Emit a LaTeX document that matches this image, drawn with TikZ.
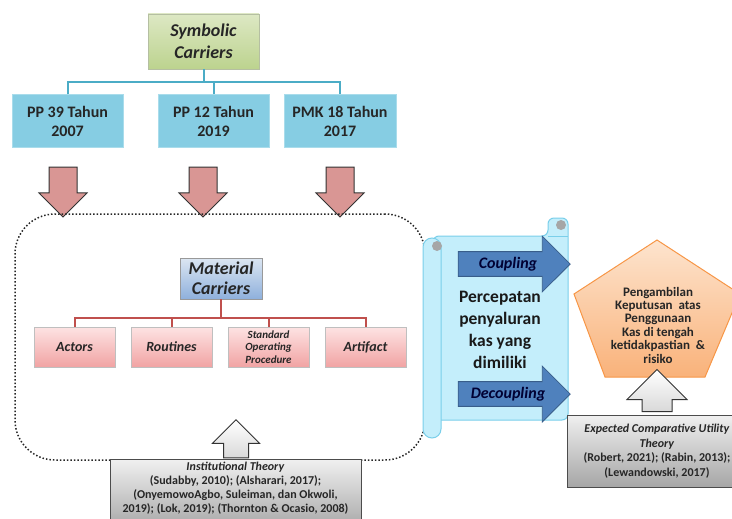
\documentclass[tikz,border=0pt]{standalone}
\usepackage{fontspec}
\setmainfont{Carlito}
\usetikzlibrary{shapes.arrows}

\definecolor{symtop}{HTML}{DDE8C4}
\definecolor{symbot}{HTML}{BCD38E}
\definecolor{lawfill}{HTML}{86CDE3}
\definecolor{lawedge}{HTML}{A9DCEB}
\definecolor{busblue}{HTML}{4BACC6}
\definecolor{pushfill}{HTML}{D99694}
\definecolor{mattop}{HTML}{DCE6F2}
\definecolor{matbot}{HTML}{8EB0DC}
\definecolor{busred}{HTML}{C0504D}
\definecolor{pinktop}{HTML}{FDE3E3}
\definecolor{pinkbot}{HTML}{F1A3A3}
\definecolor{scrollfill}{HTML}{C4EEFB}
\definecolor{scrolledge}{HTML}{7ACFEA}
\definecolor{shiftfill}{HTML}{4F81BD}
\definecolor{shiftedge}{HTML}{385D8A}
\definecolor{pentop}{HTML}{FDE4CE}
\definecolor{penbot}{HTML}{F9B27A}
\definecolor{penedge}{HTML}{F79646}
\definecolor{inktext}{HTML}{262626}

\begin{document}
\begin{tikzpicture}[x=1pt, y=-1pt, text=inktext,
    symbolic/.style={draw=symbot!70!black!60, top color=symtop, bottom color=symbot, line width=0.8pt,
        minimum width=111pt, minimum height=55pt, align=center,
        font=\fontsize{18}{22}\selectfont\bfseries\itshape},
    law/.style={draw=lawedge, fill=lawfill, line width=1pt, minimum width=111pt, minimum height=53pt,
        align=center, font=\fontsize{16}{19}\selectfont\bfseries},
    push/.style={single arrow, draw=black!80, fill=pushfill, line width=1pt, rotate=-90,
        minimum height=50pt, single arrow head extend=10pt, inner xsep=0pt, inner ysep=13.5pt},
    material/.style={draw=black!40, top color=mattop, bottom color=matbot, line width=0.8pt,
        minimum width=82pt, minimum height=41pt, align=center,
        font=\fontsize{18}{20}\selectfont\bfseries\itshape},
    carrier/.style={draw=black!25, top color=pinktop, bottom color=pinkbot, line width=0.8pt,
        minimum width=81pt, minimum height=40pt, align=center,
        font=\fontsize{14}{16}\selectfont\bfseries\itshape},
    frame/.style={draw=black!85, dotted, line width=1.5pt, rounded corners=40pt,
        minimum width=410pt, minimum height=246pt},
    lift/.style={single arrow, draw=black!80, top color=white, bottom color=black!15, line width=1pt, rotate=90,
        inner xsep=0pt},
    theory/.style={draw=black!70, top color=black!6, bottom color=black!35, line width=1pt, align=center,
        font=\fontsize{12}{14}\selectfont\bfseries},
    channel/.style={single arrow, draw=shiftedge, fill=shiftfill, line width=0.8pt,
        minimum height=112pt, single arrow head extend=15.5pt, inner xsep=2pt, inner ysep=5pt,
        text=black!80!blue, font=\fontsize{16}{18}\selectfont\bfseries\itshape},
    bus/.style={line width=2pt}]

\useasboundingbox (0,0) rectangle (732,519);

% symbolic carriers and regulations
\node[symbolic] (sym) at (203.5,41.5) {Symbolic\\Carriers};
\node[law] (pp39) at (67.5,121.5) {PP 39 Tahun\\2007};
\node[law] (pp12) at (213.5,121.5) {PP 12 Tahun\\2019};
\node[law, minimum width=112pt] (pmk18) at (340,121.5) {PMK 18 Tahun\\2017};

\draw[bus, busblue] (sym.south) -- ++(0,13) coordinate (symbus);
\draw[bus, busblue] (pp39.north) |- (symbus) -| (pmk18.north);
\draw[bus, busblue] (pp12.north) -- (pp12.north |- symbus);

\node[push] (push1) at (63,185) {};
\node[push] (push2) at (203,185) {};
\node[push] (push3) at (340,185) {};

% material carriers
\node[frame] (frame) at (220,337) {};
\node[material] (mat) at (221,278.5) {Material\\Carriers};
\node[carrier] (actors) at (74.5,347) {Actors};
\node[carrier] (routines) at (171.5,347) {Routines};
\node[carrier, font=\fontsize{11}{12.7}\selectfont\bfseries\itshape] (sop) at (268.5,347) {Standard\\Operating\\Procedure};
\node[carrier] (artifact) at (365.5,347) {Artifact};

\draw[bus, busred] (mat.south) -- ++(0,19) coordinate (matbus);
\draw[bus, busred] (actors.north) |- (matbus) -| (artifact.north);
\draw[bus, busred] (routines.north) -- (routines.north |- matbus);
\draw[bus, busred] (sop.north) -- (sop.north |- matbus);

\node[lift, minimum height=38pt, inner ysep=12pt, single arrow head extend=11pt] (lift1) at (236,445) {};
\node[theory, anchor=north, minimum width=251pt, inner ysep=3pt] (inst) at (235.5,459)
    {\textit{Institutional Theory}\\(Sudabby, 2010); (Alsharari, 2017);\\(OnyemowoAgbo, Suleiman, dan Okwoli,\\2019); (Lok, 2019); (Thornton \& Ocasio, 2008)\\~};

% scroll
\draw[scrolledge, fill=scrollfill, line width=1pt, rounded corners=6pt] (548,236) -- (548,218) -- (568,218) -- (568,420) -- (433,420) -- (433,236) -- cycle;
\draw[scrolledge, fill=scrollfill, line width=1pt, rounded corners=9pt] (423,238) rectangle (441,438);
\fill[black!35] (437,246) circle (5pt);
\fill[black!35] (561,225) circle (5pt);
\draw[scrolledge, line width=1pt] (548,236) -- (568,236);

\node[channel] (couple) at (508,264) {Coupling};
\node[channel] (decouple) at (508,394) {Decoupling};
\node[align=center, font=\fontsize{17.5}{22}\selectfont\bfseries, text=black!90] (flow) at (500,330)
    {Percepatan\\penyaluran\\kas yang\\dimiliki};

% decision
\draw[penedge, top color=pentop, bottom color=penbot, line width=1pt] (657,240) -- (740,294) -- (705,377) -- (605,377) -- (574,294) -- cycle;
\node[align=center, font=\fontsize{13}{13.4}\selectfont\bfseries] (decision) at (658,325)
    {Pengambilan\\Keputusan\ \ atas\\Penggunaan\\Kas di tengah\\ketidakpastian\ \ \&\\risiko};

\node[lift, minimum height=42pt, inner ysep=14.5pt, single arrow head extend=15pt] (lift2) at (657,398) {};
\node[theory, minimum width=180pt, minimum height=72pt, font=\fontsize{12}{14.6}\selectfont\bfseries] (ecut) at (657,451)
    {\textit{Expected Comparative Utility}\\\textit{Theory}\\(Robert, 2021); (Rabin, 2013);\\(Lewandowski, 2017)};
\end{tikzpicture}
\end{document}
